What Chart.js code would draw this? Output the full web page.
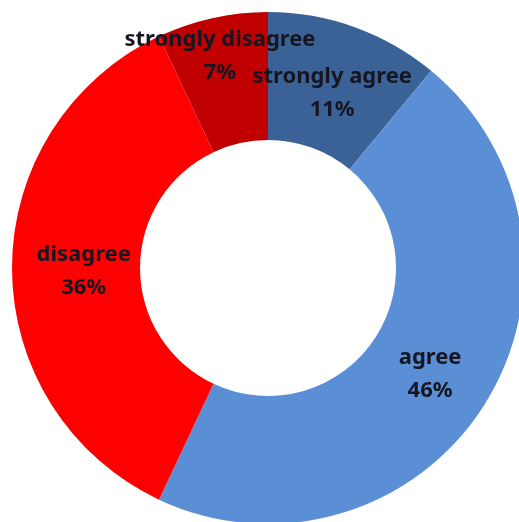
<!DOCTYPE html>
<html>
<head>
<meta charset="utf-8">
<script src="https://cdn.jsdelivr.net/npm/chart.js@4"></script>
<style>
    html, body { margin: 0; padding: 0; background: #fff; overflow: hidden; }
    #wrap { position: absolute; left: 0; top: 0; width: 536px; height: 536px; }
</style>
</head>
<body>
<div id="wrap"><canvas id="donut" width="536" height="536"></canvas></div>
<script>
// Survey responses
var categories = ['strongly agree', 'agree', 'disagree', 'strongly disagree'];
var percentages = [11, 46, 36, 7];
var sliceColors = ['#3b6297', '#5a8ed5', '#ff0000', '#c00000'];

/**
 * Draw "category / NN%" inside each slice, Excel style
 */
var sliceLabels = {
    id: 'sliceLabels',
    afterDatasetsDraw: function(chart) {
        var ctx = chart.ctx;
        var meta = chart.getDatasetMeta(0);
        // radial nudge per slice (fraction of outer radius) to mimic the original placement
        var radial = [0.74, 0.75, 0.72, 0.86];
        var lineGap = 33;
        ctx.save();
        ctx.fillStyle = '#161620';
        ctx.font = "bold 22px 'Noto Sans', sans-serif";
        ctx.textAlign = 'center';
        ctx.textBaseline = 'middle';
        meta.data.forEach(function(arc, i) {
            var mid = (arc.startAngle + arc.endAngle) / 2;
            var r = arc.outerRadius * radial[i];
            var x = arc.x + Math.cos(mid) * r;
            var y = arc.y + Math.sin(mid) * r + 3;
            ctx.fillText(categories[i], x, y - lineGap / 2);
            ctx.fillText(percentages[i] + '%', x, y + lineGap / 2);
        });
        ctx.restore();
    }
};

new Chart(document.getElementById('donut'), {
    type: 'doughnut',
    data: {
        labels: categories,
        datasets: [{
            data: percentages,
            backgroundColor: sliceColors,
            borderWidth: 0
        }]
    },
    options: {
        responsive: false,
        animation: false,
        cutout: '50%',
        layout: { padding: 12 },
        plugins: {
            legend: { display: false },
            tooltip: { enabled: false }
        }
    },
    plugins: [sliceLabels]
});
</script>
</body>
</html>
